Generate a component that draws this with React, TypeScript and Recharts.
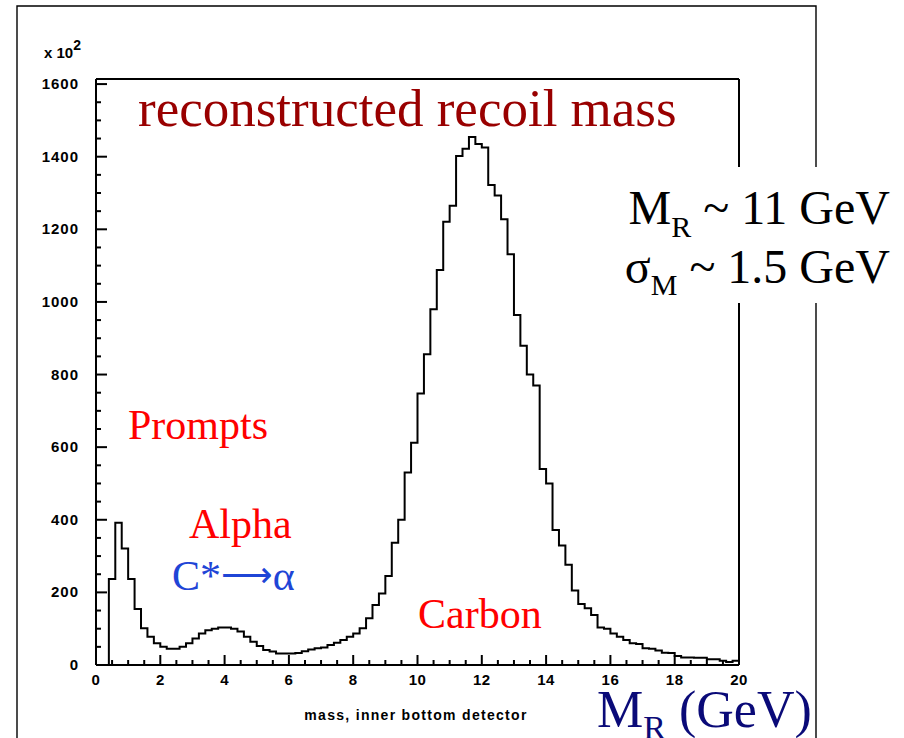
import { LineChart, Line, XAxis, YAxis, ReferenceLine } from 'recharts'

// counts per 0.2 GeV bin (x 10^2), bins from 0.0 to 19.8
const counts = [
  0, 0, 237, 392, 321, 237, 154, 101, 78, 60,
  50, 45, 45, 50, 60, 73, 87, 96, 100, 103,
  103, 100, 92, 78, 64, 52, 41, 37, 32, 32,
  32, 33, 38, 43, 46, 48, 55, 61, 69, 78,
  87, 101, 129, 165, 197, 245, 337, 400, 530, 612,
  748, 856, 980, 1088, 1221, 1265, 1402, 1422, 1454, 1435,
  1425, 1322, 1293, 1228, 1131, 964, 879, 800, 770, 540,
  500, 372, 329, 276, 205, 168, 156, 138, 103, 100,
  87, 78, 69, 60, 58, 46, 45, 40, 34, 33,
  25, 21, 21, 20, 20, 16, 16, 12, 8, 12,
]
const binWidth = 0.2
const binLow = counts.map((_, i) => Math.round(i * binWidth * 10) / 10)

const xMajor = [0, 2, 4, 6, 8, 10, 12, 14, 16, 18, 20]
const yMajor = [0, 200, 400, 600, 800, 1000, 1200, 1400, 1600]
const xTicks = Array.from({ length: 41 }, (_, i) => i * 0.5)
const yTicks = Array.from({ length: 33 }, (_, i) => i * 50)

const X_MAX = 20
const Y_MAX = 1614

const chartData = [
  ...binLow.map((m, i) => ({ mass: m, count: counts[i] })),
  { mass: X_MAX, count: counts[counts.length - 1] },
]

const sans = '"Liberation Sans", Arial, sans-serif'
const serif = '"Liberation Serif", "Times New Roman", serif'
const tickFont = { fontFamily: sans, fontWeight: 700, fontSize: 15 }

function XTick(props: any) {
  const { x, y, payload } = props
  const major = xMajor.includes(payload.value)
  return (
    <g>
      <line x1={x} x2={x} y1={y} y2={y - (major ? 10 : 5)} stroke="#000" strokeWidth={2} />
      {major && (
        <text x={x} y={y + 20} textAnchor="middle" fill="#000" letterSpacing={0.5} {...tickFont}>
          {payload.value}
        </text>
      )}
    </g>
  )
}

function YTick(props: any) {
  const { x, y, payload } = props
  const major = yMajor.includes(payload.value)
  return (
    <g>
      <line x1={x} x2={x + (major ? 11 : 5)} y1={y} y2={y} stroke="#000" strokeWidth={2} />
      {major && (
        <text x={x - 17} y={y + 5} textAnchor="end" fill="#000" letterSpacing={1} {...tickFont}>
          {payload.value}
        </text>
      )}
    </g>
  )
}

export default function App() {
  return (
    <div style={{ position: 'fixed', left: 0, top: 0, width: 904, height: 738, background: '#fff' }}>
      <LineChart
        width={904}
        height={738}
        data={chartData}
        margin={{ top: 79, right: 165, bottom: 43, left: 36 }}
      >
        <XAxis
          type="number"
          dataKey="mass"
          domain={[0, X_MAX]}
          ticks={xTicks}
          interval={0}
          height={30}
          tickSize={0}
          tickMargin={0}
          tickLine={false}
          axisLine={{ stroke: '#000', strokeWidth: 2 }}
          tick={<XTick />}
        />
        <YAxis
          type="number"
          domain={[0, Y_MAX]}
          ticks={yTicks}
          interval={0}
          width={60}
          tickSize={0}
          tickMargin={0}
          tickLine={false}
          axisLine={{ stroke: '#000', strokeWidth: 2 }}
          tick={<YTick />}
        />
        <ReferenceLine y={Y_MAX} stroke="#000" strokeWidth={2} />
        <ReferenceLine x={X_MAX} stroke="#000" strokeWidth={2} />
        <Line
          type="stepAfter"
          dataKey="count"
          stroke="#000"
          strokeWidth={2}
          dot={false}
          isAnimationActive={false}
        />
      </LineChart>
      <svg
        width={904}
        height={738}
        style={{ position: 'absolute', left: 0, top: 0, pointerEvents: 'none' }}
      >
        <polyline points="17,738 17,6 816,6 816,738" fill="none" stroke="#000" strokeWidth={1.4} />
        <rect x={600} y={167} width={304} height={136} fill="#fff" />
        <text x={44} y={58} fill="#000" fontFamily={sans} fontWeight={700} fontSize={15}>
          x 10<tspan dy={-8} fontSize={14}>2</tspan>
        </text>
        <text x={138} y={126} fill="#990000" fontFamily={serif} fontSize={53}>
          reconstructed recoil mass
        </text>
        <text x={128} y={439} fill="#ff0000" fontFamily={serif} fontSize={42}>
          Prompts
        </text>
        <text x={189} y={538} fill="#ff0000" fontFamily={serif} fontSize={42}>
          Alpha
        </text>
        <text x={172} y={590} fill="#1f45d6" fontFamily={serif} fontSize={42}>
          C*<tspan fontFamily='"DejaVu Sans", sans-serif' fontSize={36} dy={-3}>⟶</tspan>
          <tspan dy={3}>α</tspan>
        </text>
        <text x={418} y={628} fill="#ff0000" fontFamily={serif} fontSize={42}>
          Carbon
        </text>
        <text x={890} y={224} textAnchor="end" fill="#000" fontFamily={serif} fontSize={48}>
          M<tspan fontSize={30} dy={13}>R</tspan>
          <tspan dy={-13}> ~ 11 GeV</tspan>
        </text>
        <text x={890} y={283} textAnchor="end" fill="#000" fontFamily={serif} fontSize={48}>
          σ<tspan fontSize={30} dy={12}>M</tspan>
          <tspan dy={-12}> ~ 1.5 GeV</tspan>
        </text>
        <text
          x={416}
          y={720}
          textAnchor="middle"
          fill="#000"
          fontFamily={sans}
          fontWeight={700}
          fontSize={14}
          letterSpacing={1.3}
        >
          mass, inner bottom detector
        </text>
        <text x={597} y={727} fill="#0a0a78" fontFamily={serif} fontSize={52}>
          M<tspan fontSize={34} dy={12}>R</tspan>
          <tspan dy={-12}> (GeV)</tspan>
        </text>
      </svg>
    </div>
  )
}
